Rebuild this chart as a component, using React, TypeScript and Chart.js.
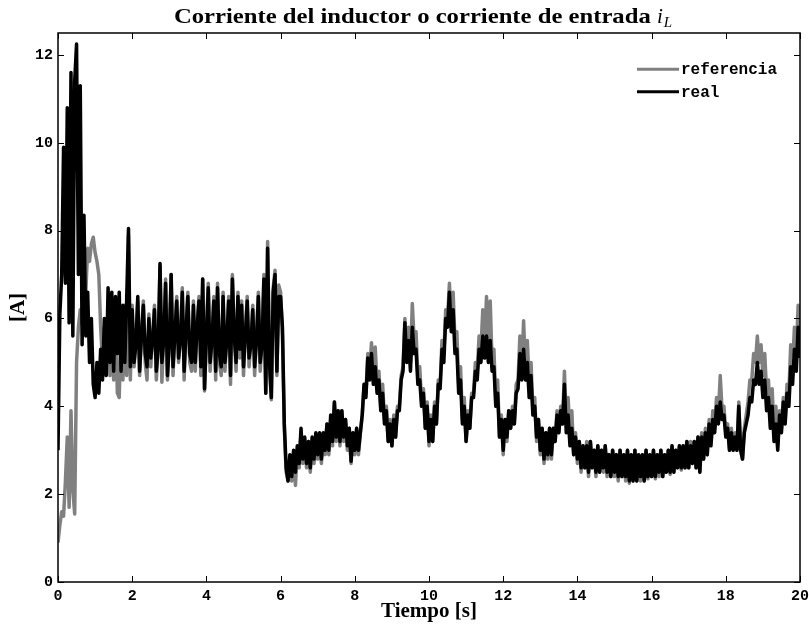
import { useEffect, useRef } from 'react';
import { Chart, registerables } from 'chart.js';

Chart.register(...registerables);

const TITLE_TEXT = 'Corriente del inductor o corriente de entrada';
const TITLE_VAR = 'i';
const TITLE_SUB = 'L';
const X_LABEL = 'Tiempo [s]';
const Y_LABEL = '[A]';
const SERIES_NAMES = ['referencia', 'real'];
const SERIES_COLORS = ['#808080', '#000000'];
const X_MIN = 0;
const X_MAX = 20;
const X_STEP_TICK = 2;
const Y_MIN = 0;
const Y_MAX = 12.5;
const Y_STEP_TICK = 2;
const SAMPLE_START = 0;
const SAMPLE_STEP = 0.05;

// referencia (gray), one row per second, 20 samples per row
const referencia = [
  0.9, 1.3, 1.6, 1.5, 2.3, 3.3, 1.7, 3.9, 2.1, 1.55, 5.0, 5.8, 6.2, 5.9, 6.2, 6.6, 7.6, 7.3, 7.7, 7.85,
  7.5, 7.3, 7.0, 5.8, 5.0, 5.8, 4.9, 5.4, 4.7, 5.9, 4.6, 6.1, 4.3, 4.2, 5.8, 4.6, 6.3, 4.7, 7.9, 4.6,
  6.3, 4.9, 5.5, 6.4, 4.7, 5.7, 6.4, 5.0, 4.6, 6.1, 4.9, 5.6, 6.3, 4.6, 5.4, 7.2, 4.55, 5.6, 6.9, 4.6,
  5.5, 7.0, 4.7, 5.7, 6.5, 5.0, 5.6, 6.7, 4.6, 5.8, 6.6, 5.0, 4.8, 6.4, 4.8, 5.9, 6.5, 4.7, 6.9, 4.35,
  5.7, 6.8, 4.8, 5.6, 6.5, 4.6, 6.8, 5.0, 4.7, 6.6, 4.8, 5.6, 6.5, 4.5, 7.0, 5.7, 4.8, 6.6, 5.1, 6.4,
  4.7, 5.7, 6.5, 4.9, 5.5, 6.3, 4.7, 5.6, 6.6, 4.8, 5.5, 7.0, 4.3, 7.75, 4.9, 4.15, 6.7, 7.1, 4.7, 6.76,
  6.6, 5.6, 3.5, 2.5, 2.3, 2.8, 2.3, 2.9, 2.2, 3.0, 2.6, 3.4, 2.7, 3.2, 2.6, 3.2, 2.5, 3.2, 2.7, 3.3,
  2.8, 3.3, 2.7, 3.3, 2.9, 3.6, 2.9, 3.7, 3.1, 4.1, 3.2, 3.9, 3.1, 3.9, 3.2, 3.7, 3.0, 3.5, 2.7, 3.4,
  2.9, 3.5, 2.9, 3.4, 3.8, 4.5, 4.3, 5.2, 4.8, 5.45, 4.7, 5.35, 4.5, 4.8, 4.0, 4.5, 3.7, 4.0, 3.2, 3.7,
  3.1, 3.8, 3.3, 4.0, 4.0, 4.7, 4.9, 6.0, 5.2, 5.8, 5.0, 6.34, 5.5, 5.7, 4.7, 4.9, 4.1, 4.4, 3.5, 4.1,
  3.1, 3.8, 3.2, 4.1, 3.6, 4.6, 4.5, 5.5, 5.2, 6.2, 6.0, 6.8, 5.9, 6.6, 5.5, 5.7, 4.5, 4.9, 3.7, 4.2,
  3.2, 3.9, 3.5, 4.3, 4.3, 5.0, 4.8, 5.6, 5.3, 6.2, 5.4, 6.5, 5.3, 6.4, 5.0, 5.3, 4.1, 4.6, 3.3, 3.8,
  2.9, 3.7, 3.2, 3.9, 3.5, 4.0, 3.6, 4.5, 4.6, 5.6, 4.8, 5.95, 4.8, 5.5, 4.5, 5.0, 3.9, 4.2, 3.2, 3.7,
  2.9, 3.5, 2.7, 3.4, 2.8, 3.5, 2.8, 3.5, 3.2, 3.9, 3.4, 4.0, 3.6, 4.8, 3.6, 4.2, 3.3, 3.9, 2.9, 3.4,
  2.7, 3.2, 2.5, 3.1, 2.6, 3.2, 2.4, 3.2, 2.6, 3.0, 2.4, 3.1, 2.5, 3.0, 2.5, 3.1, 2.4, 2.9, 2.4, 3.0,
  2.4, 2.9, 2.3, 3.0, 2.4, 2.9, 2.3, 3.0, 2.25, 2.9, 2.3, 3.0, 2.3, 2.9, 2.3, 2.9, 2.3, 3.0, 2.35, 2.9,
  2.4, 3.0, 2.35, 2.9, 2.4, 3.0, 2.4, 2.9, 2.5, 3.0, 2.45, 3.1, 2.5, 3.0, 2.6, 3.1, 2.55, 3.1, 2.6, 3.2,
  2.6, 3.2, 2.7, 3.2, 2.6, 3.3, 2.5, 3.4, 2.8, 3.5, 2.9, 3.7, 3.2, 3.9, 3.5, 4.2, 3.8, 4.7, 3.9, 4.0,
  3.4, 3.6, 3.0, 3.5, 3.0, 3.4, 3.0, 4.1, 3.0, 2.8, 3.5, 3.8, 4.1, 4.6, 4.6, 5.2, 5.0, 5.6, 5.0, 5.4,
  4.7, 5.2, 4.3, 4.6, 3.8, 4.4, 3.4, 4.0, 3.1, 3.9, 3.5, 4.2, 3.7, 4.5, 4.3, 5.4, 4.9, 5.8, 5.2, 6.3,
  5.6,
];

// real (black), one row per second, 20 samples per row
const real = [
  3.0, 6.1, 7.0, 9.9, 6.8, 10.8, 5.9, 11.6, 5.6, 11.4, 12.25, 7.0, 11.3, 5.4, 8.35, 5.6, 6.6, 5.0, 6.0, 4.5,
  4.2, 5.0, 4.3, 5.3, 4.6, 6.0, 4.7, 6.7, 5.0, 6.6, 4.8, 6.5, 5.2, 6.6, 4.8, 6.3, 5.0, 6.4, 8.05, 4.9,
  6.2, 5.0, 5.4, 6.5, 4.8, 5.6, 6.3, 5.2, 4.9, 6.0, 5.1, 5.5, 6.2, 4.8, 5.3, 7.25, 5.0, 5.5, 6.8, 4.7,
  5.4, 7.0, 4.9, 5.6, 6.4, 5.1, 5.5, 6.6, 4.8, 5.7, 6.5, 5.2, 5.0, 6.3, 5.0, 5.8, 6.4, 4.9, 6.9, 4.4,
  5.6, 6.7, 5.0, 5.5, 6.4, 4.8, 6.7, 5.2, 4.9, 6.5, 5.0, 5.5, 6.4, 4.7, 6.9, 5.6, 5.0, 6.5, 5.3, 6.3,
  4.9, 5.6, 6.4, 5.1, 5.4, 6.2, 4.9, 5.5, 6.5, 5.0, 5.4, 6.9, 4.3, 7.6, 5.0, 4.2, 6.6, 7.0, 4.8, 6.5,
  6.5, 5.8, 3.6, 2.6, 2.3, 2.9, 2.4, 3.0, 2.5, 3.1, 2.7, 3.5, 2.8, 3.3, 2.7, 3.2, 2.6, 3.3, 2.8, 3.4,
  2.9, 3.4, 2.8, 3.4, 3.0, 3.6, 3.0, 3.8, 3.2, 4.1, 3.3, 3.9, 3.2, 3.9, 3.3, 3.7, 3.1, 3.5, 2.75, 3.4,
  3.0, 3.5, 3.0, 3.4, 3.8, 4.5, 4.2, 5.1, 4.6, 5.2, 4.5, 4.9, 4.3, 4.6, 3.9, 4.3, 3.6, 3.9, 3.2, 3.6,
  3.1, 3.7, 3.3, 3.9, 3.9, 4.6, 4.8, 5.9, 5.0, 5.5, 4.8, 5.8, 5.2, 5.3, 4.5, 4.6, 4.0, 4.3, 3.5, 4.0,
  3.2, 3.7, 3.2, 4.0, 3.6, 4.5, 4.4, 5.3, 5.0, 6.0, 5.8, 6.6, 5.7, 6.2, 5.2, 5.3, 4.3, 4.6, 3.6, 4.0,
  3.2, 3.8, 3.5, 4.2, 4.2, 4.8, 4.6, 5.3, 5.0, 5.6, 5.1, 5.6, 5.0, 5.5, 4.8, 4.9, 4.0, 4.3, 3.3, 3.7,
  3.0, 3.7, 3.3, 3.9, 3.5, 3.9, 3.6, 4.3, 4.4, 5.2, 4.6, 5.3, 4.6, 5.0, 4.2, 4.7, 3.8, 4.0, 3.3, 3.7,
  3.0, 3.5, 2.8, 3.4, 2.9, 3.5, 2.9, 3.5, 3.2, 3.8, 3.4, 3.9, 3.6, 4.5, 3.4, 3.8, 3.1, 3.5, 2.9, 3.3,
  2.8, 3.2, 2.6, 3.1, 2.6, 3.1, 2.5, 3.2, 2.6, 3.0, 2.5, 3.1, 2.5, 3.0, 2.6, 3.1, 2.5, 2.9, 2.4, 3.0,
  2.5, 2.9, 2.4, 3.0, 2.4, 2.9, 2.4, 3.0, 2.3, 2.9, 2.3, 3.0, 2.3, 2.9, 2.4, 2.9, 2.3, 3.0, 2.4, 2.9,
  2.4, 3.0, 2.4, 2.9, 2.5, 3.0, 2.4, 2.9, 2.5, 3.0, 2.5, 3.1, 2.5, 3.0, 2.6, 3.1, 2.6, 3.1, 2.6, 3.2,
  2.6, 3.1, 2.7, 3.2, 2.6, 3.3, 2.5, 3.3, 2.8, 3.4, 2.9, 3.6, 3.1, 3.7, 3.4, 4.0, 3.6, 4.1, 3.7, 3.8,
  3.3, 3.5, 3.0, 3.4, 3.0, 3.3, 3.0, 4.0, 3.0, 2.8, 3.4, 3.6, 3.8, 4.2, 4.1, 4.6, 4.5, 5.0, 4.5, 4.8,
  4.2, 4.6, 3.9, 4.2, 3.5, 4.0, 3.2, 3.6, 3.0, 3.8, 3.4, 4.1, 3.6, 4.3, 4.0, 4.9, 4.5, 5.3, 4.8, 5.8,
  5.1,
];

const SERIES = [referencia, real];
// higher order is drawn first (below); "real" sits on top of "referencia"
const SERIES_ORDER = [1, 0];

const TICK_FONT = { family: '"Liberation Mono", monospace', size: 15, weight: 'bold' as const };
const LABEL_FONT = { family: '"Liberation Serif", serif', size: 21, weight: 'bold' as const };

const toPoints = (vals: number[]) =>
  vals.map((v, i) => ({ x: SAMPLE_START + i * SAMPLE_STEP, y: v }));

const framePlugin = {
  id: 'matlabFrame',
  afterDraw(chart: any) {
    const { ctx, chartArea: a, scales } = chart;
    ctx.save();
    ctx.strokeStyle = '#000';
    ctx.lineWidth = 1.5;
    ctx.strokeRect(a.left, a.top, a.right - a.left, a.bottom - a.top);
    ctx.lineWidth = 1;
    const tl = 6;
    ctx.beginPath();
    scales.x.ticks.forEach((t: any) => {
      const px = Math.round(scales.x.getPixelForValue(t.value)) + 0.5;
      ctx.moveTo(px, a.bottom);
      ctx.lineTo(px, a.bottom - tl);
      ctx.moveTo(px, a.top);
      ctx.lineTo(px, a.top + tl);
    });
    scales.y.ticks.forEach((t: any) => {
      const py = Math.round(scales.y.getPixelForValue(t.value)) + 0.5;
      ctx.moveTo(a.left, py);
      ctx.lineTo(a.left + tl, py);
      ctx.moveTo(a.right, py);
      ctx.lineTo(a.right - tl, py);
    });
    ctx.stroke();

    // title with italic variable and subscript
    ctx.fillStyle = '#000';
    ctx.textBaseline = 'alphabetic';
    ctx.textAlign = 'left';
    const mainFont = 'bold 21px "Liberation Serif", serif';
    const varFont = 'italic 21px "Liberation Serif", serif';
    const subFont = 'italic 15px "Liberation Serif", serif';
    ctx.font = mainFont;
    const rawW = ctx.measureText(TITLE_TEXT + ' ').width;
    const targetMain = 483;
    const sx = targetMain / rawW;
    ctx.font = varFont;
    const wVar = ctx.measureText(TITLE_VAR).width;
    ctx.font = subFont;
    const wSub = ctx.measureText(TITLE_SUB).width;
    const total = targetMain + wVar + 1 + wSub;
    const cx = (a.left + a.right) / 2 - 6;
    let x = cx - total / 2;
    const by = 22.5;
    ctx.save();
    ctx.translate(x, by);
    ctx.scale(sx, 1);
    ctx.font = mainFont;
    ctx.fillText(TITLE_TEXT, 0, 0);
    ctx.restore();
    x += targetMain;
    ctx.font = varFont;
    ctx.fillText(TITLE_VAR, x, by);
    x += wVar + 1;
    ctx.font = subFont;
    ctx.fillText(TITLE_SUB, x, by + 4);

    // legend (inside, top right, no box), listed in dataset order
    const lx0 = a.right - 163;
    const lx1 = a.right - 121;
    const tx = a.right - 119;
    const rows = [a.top + 36.3, a.top + 58.7];
    chart.data.datasets.forEach((ds: any, i: number) => {
      const y = rows[i];
      ctx.strokeStyle = ds.borderColor;
      ctx.lineWidth = 3;
      ctx.beginPath();
      ctx.moveTo(lx0, y);
      ctx.lineTo(lx1, y);
      ctx.stroke();
      ctx.fillStyle = '#000';
      ctx.font = 'bold 16px "Liberation Mono", monospace';
      ctx.textBaseline = 'middle';
      ctx.fillText(ds.label, tx, y + 1);
    });
    ctx.restore();
  },
};

export default function App() {
  const ref = useRef<HTMLCanvasElement | null>(null);

  useEffect(() => {
    if (!ref.current) return;
    const chart = new Chart(ref.current, {
      type: 'line',
      data: {
        datasets: SERIES.map((vals, i) => ({
          label: SERIES_NAMES[i],
          data: toPoints(vals),
          order: SERIES_ORDER[i],
          borderColor: SERIES_COLORS[i],
          backgroundColor: SERIES_COLORS[i],
          borderWidth: 3.5,
          pointRadius: 0,
          tension: 0,
          fill: false,
          borderJoinStyle: 'round' as const,
        })),
      },
      options: {
        responsive: false,
        animation: false,
        events: [],
        layout: { padding: { top: 33, right: 9, left: 0, bottom: 0 } },
        plugins: {
          legend: { display: false },
          title: { display: false },
          tooltip: { enabled: false },
        },
        scales: {
          x: {
            type: 'linear',
            min: X_MIN,
            max: X_MAX,
            grid: { display: false, drawTicks: false },
            border: { display: false },
            ticks: {
              stepSize: X_STEP_TICK,
              includeBounds: false,
              font: TICK_FONT,
              color: '#000',
              padding: 5,
              maxRotation: 0,
            },
            title: {
              display: true,
              text: X_LABEL,
              font: LABEL_FONT,
              color: '#000',
              padding: { top: 0, bottom: 2 },
            },
            afterFit: (s: any) => {
              s.height = 44;
              s.paddingLeft = 0;
              s.paddingRight = 0;
            },
          },
          y: {
            type: 'linear',
            min: Y_MIN,
            max: Y_MAX,
            grid: { display: false, drawTicks: false },
            border: { display: false },
            ticks: {
              stepSize: Y_STEP_TICK,
              includeBounds: false,
              font: TICK_FONT,
              color: '#000',
              padding: 5,
            },
            title: {
              display: true,
              text: Y_LABEL,
              font: LABEL_FONT,
              color: '#000',
              padding: { top: 6, bottom: 0 },
            },
            afterFit: (s: any) => {
              s.width = 58;
            },
          },
        },
      },
      plugins: [framePlugin],
    });
    return () => chart.destroy();
  }, []);

  return (
    <div style={{ position: 'fixed', left: 0, top: 0, width: 809, height: 626, background: '#fff' }}>
      <canvas ref={ref} width={809} height={626} />
    </div>
  );
}
